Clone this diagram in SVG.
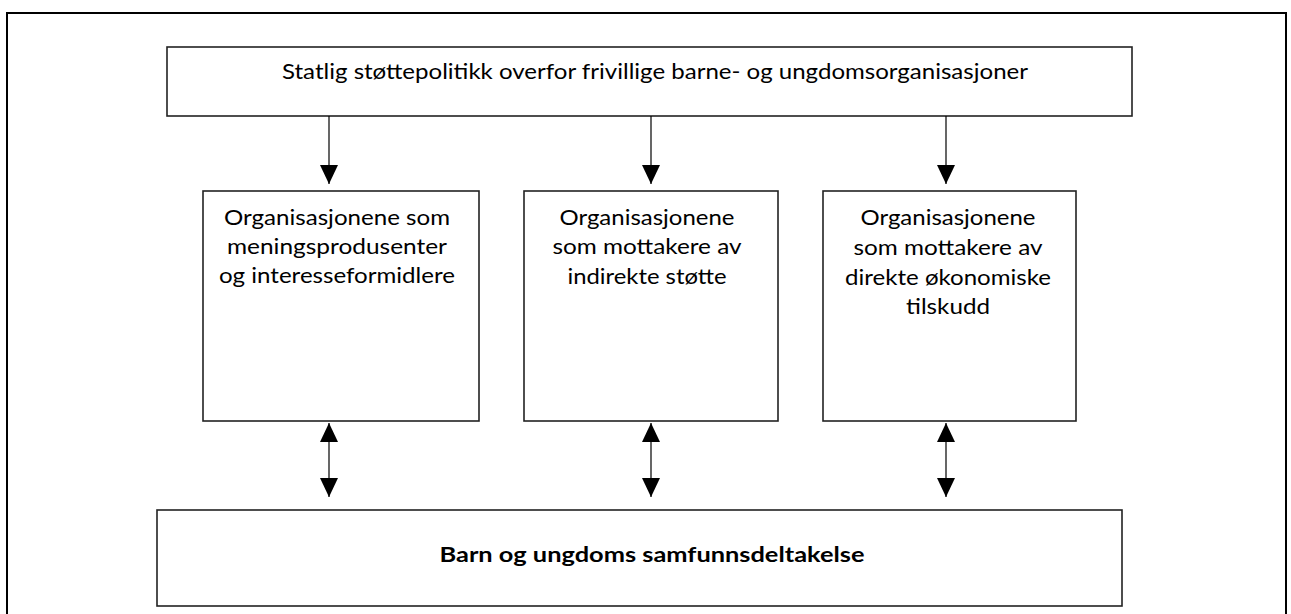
<svg xmlns="http://www.w3.org/2000/svg" width="1291" height="614" viewBox="0 0 1291 614">
<defs>
<style>
.box{fill:#fff;stroke:#222;stroke-width:1.6}
.t{font-family:Lato,"Open Sans","Liberation Sans",sans-serif;font-size:20.5px;fill:#000;text-anchor:middle}
.b{font-weight:bold}
.c{stroke:#000;stroke-width:1.2;fill:none}
</style>
<marker id="ah" markerUnits="userSpaceOnUse" viewBox="0 0 19 18" markerWidth="19" markerHeight="18" refX="19" refY="9" orient="auto-start-reverse">
<path d="M0,0 L19,9 L0,18 z" fill="#000"/>
</marker>
</defs>
<rect width="1291" height="614" fill="#fff"/>
<rect x="7" y="13" width="1279" height="620" fill="none" stroke="#000" stroke-width="2"/>
<g id="top">
<rect class="box" x="167" y="47" width="965" height="69"/>
<text class="t" x="655" y="79" textLength="746" lengthAdjust="spacingAndGlyphs">Statlig støttepolitikk overfor frivillige barne- og ungdomsorganisasjoner</text>
</g>
<g id="box1">
<rect class="box" x="203" y="191" width="276" height="230"/>
<text class="t" x="337" y="225" textLength="226" lengthAdjust="spacingAndGlyphs">Organisasjonene som</text>
<text class="t" x="337" y="254" textLength="220" lengthAdjust="spacingAndGlyphs">meningsprodusenter</text>
<text class="t" x="337" y="283" textLength="236" lengthAdjust="spacingAndGlyphs">og interesseformidlere</text>
</g>
<g id="box2">
<rect class="box" x="524" y="191" width="254" height="230"/>
<text class="t" x="647" y="225" textLength="175" lengthAdjust="spacingAndGlyphs">Organisasjonene</text>
<text class="t" x="647" y="254" textLength="189" lengthAdjust="spacingAndGlyphs">som mottakere av</text>
<text class="t" x="647" y="284" textLength="159" lengthAdjust="spacingAndGlyphs">indirekte støtte</text>
</g>
<g id="box3">
<rect class="box" x="823" y="191" width="253" height="230"/>
<text class="t" x="948" y="225" textLength="175" lengthAdjust="spacingAndGlyphs">Organisasjonene</text>
<text class="t" x="948" y="255" textLength="189" lengthAdjust="spacingAndGlyphs">som mottakere av</text>
<text class="t" x="948" y="285" textLength="206" lengthAdjust="spacingAndGlyphs">direkte økonomiske</text>
<text class="t" x="948" y="314" textLength="84" lengthAdjust="spacingAndGlyphs">tilskudd</text>
</g>
<g id="bottom">
<rect class="box" x="157" y="510" width="965" height="96"/>
<text class="t b" x="652" y="562" textLength="425" lengthAdjust="spacingAndGlyphs">Barn og ungdoms samfunnsdeltakelse</text>
</g>
<g id="connectors">
<line class="c" x1="329" y1="116" x2="329" y2="184" marker-end="url(#ah)"/>
<line class="c" x1="651" y1="116" x2="651" y2="184" marker-end="url(#ah)"/>
<line class="c" x1="946" y1="116" x2="946" y2="184" marker-end="url(#ah)"/>
<line class="c" x1="329" y1="423" x2="329" y2="497" marker-start="url(#ah)" marker-end="url(#ah)"/>
<line class="c" x1="651" y1="423" x2="651" y2="497" marker-start="url(#ah)" marker-end="url(#ah)"/>
<line class="c" x1="946" y1="423" x2="946" y2="497" marker-start="url(#ah)" marker-end="url(#ah)"/>
</g>
</svg>
